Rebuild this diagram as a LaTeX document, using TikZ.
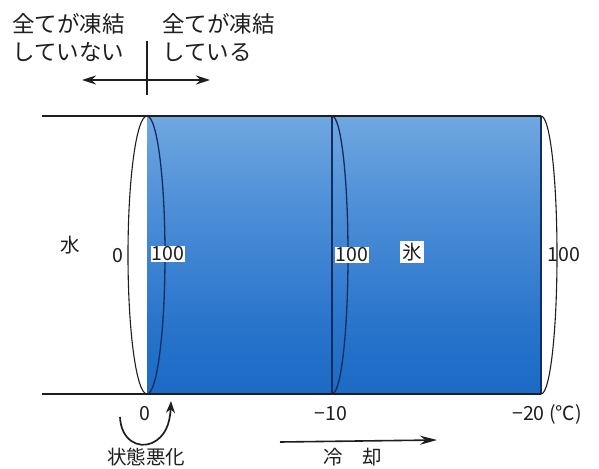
\documentclass[tikz,border=0pt]{standalone}
\usepackage{fontspec}
\setmainfont{Noto Sans CJK JP}
\usetikzlibrary{arrows.meta}
\definecolor{iceL}{RGB}{165,204,240}
\definecolor{iceM}{RGB}{80,145,216}
\definecolor{iceM2}{RGB}{32,110,200}
\definecolor{iceD}{RGB}{8,86,178}
\definecolor{edgeblue}{RGB}{20,45,95}
\definecolor{ink}{RGB}{30,30,30}
\pgfdeclareverticalshading{iceshade}{100bp}{color(0bp)=(iceD); color(30bp)=(iceM2); color(38bp)=(iceM2!80!iceM); color(60bp)=(iceM); color(100bp)=(iceL)}
\begin{document}
\begin{tikzpicture}[x=1pt,y=-1pt,
  toplabel/.style={font=\fontsize{22.5}{24}\selectfont, text=ink, inner sep=0pt},
  cjklabel/.style={font=\fontsize{19.5}{21}\selectfont, text=ink, inner sep=0pt},
  numlabel/.style={font=\fontsize{19.5}{21}\selectfont, text=ink, inner sep=1pt},
  numbox/.style={numlabel, fill=white, inner sep=1.2pt},
  rim/.style={line width=1.5pt, draw=ink},
  bluearc/.style={line width=1.3pt, draw=edgeblue},
  blackarc/.style={line width=1.1pt, draw=ink},
  arrowline/.style={line width=1.6pt, draw=ink}
]
\useasboundingbox (0,0) rectangle (599,468);
\fill[white] (0,0) rectangle (599,468);

% blue body
\shade[shading=iceshade] (147,116) rectangle (541,394);

% section edges
\draw[bluearc] (332,116) -- (332,394);
\draw[bluearc] (541,116) -- (541,394);

% arcs
\draw[blackarc] (147,116) .. controls (136.5,116) and (128,178) .. (128,255)
                          .. controls (128,332) and (136.5,394) .. (147,394);
\draw[bluearc] (147,116) .. controls (157,116) and (165,178) .. (165,255)
                         .. controls (165,332) and (157,394) .. (147,394);
\draw[bluearc] (332,116) .. controls (341,116) and (348,178) .. (348,255)
                         .. controls (348,332) and (341,394) .. (332,394);
\draw[blackarc] (541,116) .. controls (550,116) and (557,178) .. (557,255)
                          .. controls (557,332) and (550,394) .. (541,394);

% rims
\draw[rim] (42,116) -- (541,116);
\draw[rim] (42,394) -- (541,394);

% top labels
\node[toplabel, anchor=west] (lt1) at (12,24) {全てが凍結};
\node[toplabel, anchor=west] (lt2) at (12,52) {していない};
\node[toplabel, anchor=west] (rt1) at (162,24) {全てが凍結};
\node[toplabel, anchor=west] (rt2) at (162,52) {している};

\coordinate (vtop) at (147,41);
\coordinate (vbot) at (147,95);
\coordinate (harrL) at (82,80);
\coordinate (harrR) at (210,80);
\draw[arrowline, line width=1.8pt] (vtop) -- (vbot);
\draw[arrowline, {Stealth[length=14pt,width=9pt]}-{Stealth[length=14pt,width=9pt]}] (harrL) -- (harrR);

% inner labels
\node[cjklabel] (water) at (70,245) {水};
\node[numlabel] (z0) at (118,256) {0};
\node[numbox] (p1) at (168,254) {100};
\node[numbox] (p2) at (352,255) {100};
\node[cjklabel, fill=white, inner sep=2pt] (ice) at (412,252) {氷};
\node[numlabel] (p3) at (564,255) {100};

% bottom scale
\node[numlabel] (t0) at (145,414) {0};
\node[numlabel] (t10) at (331,414) {−10};
\node[numlabel, anchor=west] (t20) at (511,414) {−20 (℃)};

% deterioration arrow
\coordinate (cs) at (120,417);
\coordinate (ce) at (171,401);
\draw[arrowline, line width=1.7pt, -{Stealth[length=12pt,width=9pt]}] (cs) .. controls (121,440) and (138,449) .. (152,443)
   .. controls (165,437) and (170,424) .. (ce);
\node[cjklabel] (bad) at (146,457) {状態悪化};

% cooling arrow
\coordinate (cool1) at (280,442);
\coordinate (cool2) at (437,440);
\draw[arrowline, -{Stealth[length=17pt,width=9pt]}] (cool1) -- (cool2);
\node[cjklabel] (cool) at (353,457) {冷　却};
\end{tikzpicture}
\end{document}
